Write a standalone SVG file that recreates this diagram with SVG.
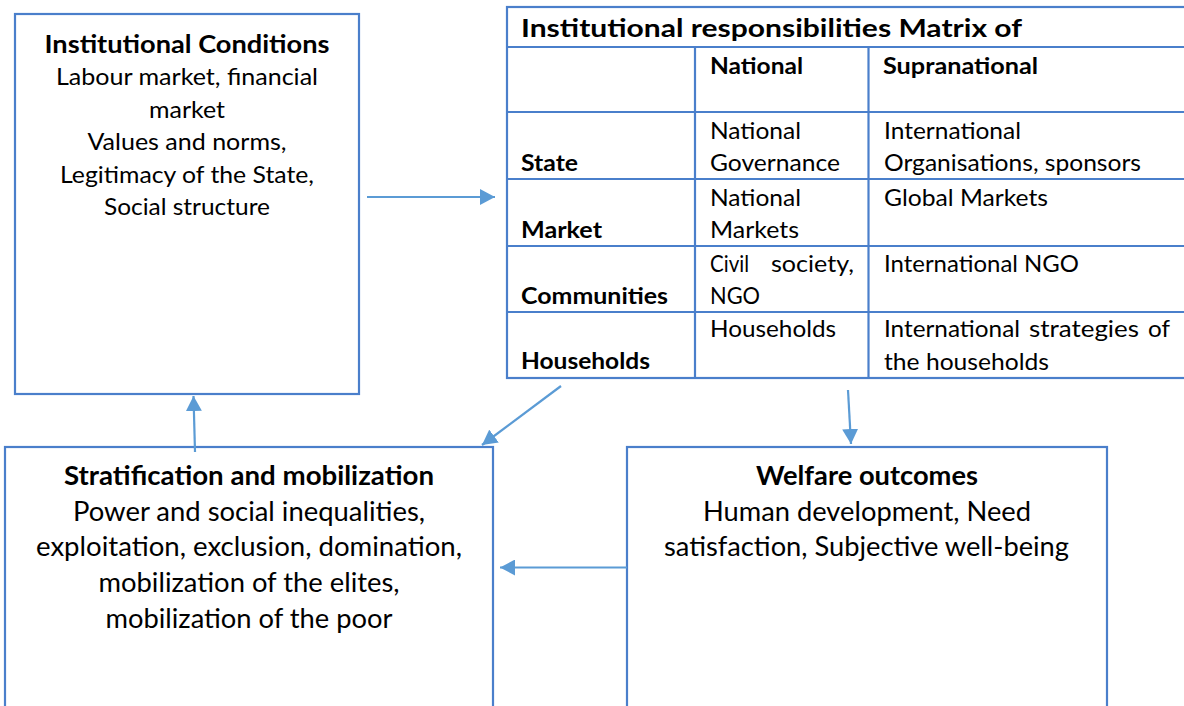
<svg xmlns="http://www.w3.org/2000/svg" width="1184" height="706" viewBox="0 0 1184 706">
<style>
.box{fill:#fff;stroke:#4A7FCB;stroke-width:2.2}
.tl{stroke:#4A7FCB;stroke-width:2.2;fill:none}
.t{font-family:Lato,"Liberation Sans",sans-serif;fill:#000;font-size:24px}
.b{font-weight:bold}
.c{text-anchor:middle}
.s{font-size:23.5px}
.l{font-size:26px}
.conn{stroke:#5B9BD5;stroke-width:2.2;fill:none;marker-end:url(#ah)}
</style>
<defs>
<marker id="ah" markerUnits="userSpaceOnUse" markerWidth="15" markerHeight="16" viewBox="0 0 15 16" refX="15" refY="8" orient="auto">
<path d="M0,0 L15,8 L0,16 z" fill="#5B9BD5"/>
</marker>
</defs>
<rect width="1184" height="706" fill="#fff"/>

<g id="institutional-conditions">
<rect class="box" x="15" y="14" width="344" height="380"/>
<text class="t b c" x="187" y="52.5" textLength="285" lengthAdjust="spacingAndGlyphs">Institutional Conditions</text>
<text class="t c" x="187" y="85" textLength="262" lengthAdjust="spacingAndGlyphs">Labour market, financial</text>
<text class="t c" x="187" y="117.5" textLength="76" lengthAdjust="spacingAndGlyphs">market</text>
<text class="t c" x="187" y="150" textLength="199" lengthAdjust="spacingAndGlyphs">Values and norms,</text>
<text class="t c" x="187" y="182.5" textLength="254" lengthAdjust="spacingAndGlyphs">Legitimacy of the State,</text>
<text class="t c" x="187" y="215" textLength="166" lengthAdjust="spacingAndGlyphs">Social structure</text>
</g>

<g id="matrix">
<rect class="tl" x="507" y="7" width="690" height="371"/>
<line class="tl" x1="507" y1="47" x2="1190" y2="47"/>
<line class="tl" x1="507" y1="112" x2="1190" y2="112"/>
<line class="tl" x1="507" y1="179" x2="1190" y2="179"/>
<line class="tl" x1="507" y1="246" x2="1190" y2="246"/>
<line class="tl" x1="507" y1="312" x2="1190" y2="312"/>
<line class="tl" x1="695" y1="47" x2="695" y2="378"/>
<line class="tl" x1="868.5" y1="47" x2="868.5" y2="378"/>
<text class="t b" x="521" y="37" font-size="27" textLength="501" lengthAdjust="spacingAndGlyphs">Institutional responsibilities Matrix of</text>
<text class="t s b" x="710" y="74" textLength="93" lengthAdjust="spacingAndGlyphs">National</text>
<text class="t s b" x="883" y="74" textLength="155" lengthAdjust="spacingAndGlyphs">Supranational</text>

<text class="t s b" x="521" y="171" textLength="57" lengthAdjust="spacingAndGlyphs">State</text>
<text class="t s" x="710" y="139" textLength="91" lengthAdjust="spacingAndGlyphs">National</text>
<text class="t s" x="710" y="171" textLength="130" lengthAdjust="spacingAndGlyphs">Governance</text>
<text class="t s" x="884" y="139" textLength="137" lengthAdjust="spacingAndGlyphs">International</text>
<text class="t s" x="884" y="171" textLength="257" lengthAdjust="spacingAndGlyphs">Organisations, sponsors</text>

<text class="t s b" x="521" y="238" textLength="81" lengthAdjust="spacingAndGlyphs">Market</text>
<text class="t s" x="710" y="206" textLength="91" lengthAdjust="spacingAndGlyphs">National</text>
<text class="t s" x="710" y="238" textLength="89" lengthAdjust="spacingAndGlyphs">Markets</text>
<text class="t s" x="884" y="206" textLength="164" lengthAdjust="spacingAndGlyphs">Global Markets</text>

<text class="t s b" x="521" y="304" textLength="147" lengthAdjust="spacingAndGlyphs">Communities</text>
<text class="t s" x="710" y="272" textLength="39" lengthAdjust="spacingAndGlyphs">Civil</text>
<text class="t s" x="771" y="272" textLength="83" lengthAdjust="spacingAndGlyphs">society,</text>
<text class="t s" x="710" y="304" textLength="50" lengthAdjust="spacingAndGlyphs">NGO</text>
<text class="t s" x="884" y="272" textLength="195" lengthAdjust="spacingAndGlyphs">International NGO</text>

<text class="t s b" x="521" y="369" textLength="129" lengthAdjust="spacingAndGlyphs">Households</text>
<text class="t s" x="710" y="337" textLength="126" lengthAdjust="spacingAndGlyphs">Households</text>
<text class="t s" x="884" y="337" textLength="136" lengthAdjust="spacingAndGlyphs">International</text>
<text class="t s" x="1029" y="337" textLength="110" lengthAdjust="spacingAndGlyphs">strategies</text>
<text class="t s" x="1148" y="337" textLength="22" lengthAdjust="spacingAndGlyphs">of</text>
<text class="t s" x="884" y="370" textLength="165" lengthAdjust="spacingAndGlyphs">the households</text>
</g>

<g id="stratification">
<rect class="box" x="5" y="447" width="488" height="270"/>
<text class="t l b c" x="249" y="485" textLength="370" lengthAdjust="spacingAndGlyphs">Stratification and mobilization</text>
<text class="t l c" x="249" y="520.7" textLength="352" lengthAdjust="spacingAndGlyphs">Power and social inequalities,</text>
<text class="t l c" x="249" y="556.4" textLength="426" lengthAdjust="spacingAndGlyphs">exploitation, exclusion, domination,</text>
<text class="t l c" x="249" y="592" textLength="301" lengthAdjust="spacingAndGlyphs">mobilization of the elites,</text>
<text class="t l c" x="249" y="627.8" textLength="287" lengthAdjust="spacingAndGlyphs">mobilization of the poor</text>
</g>

<g id="welfare-outcomes">
<rect class="box" x="627" y="447" width="480" height="270"/>
<text class="t l b c" x="867" y="485" textLength="222" lengthAdjust="spacingAndGlyphs">Welfare outcomes</text>
<text class="t l c" x="867" y="520.7" textLength="328" lengthAdjust="spacingAndGlyphs">Human development, Need</text>
<text class="t l c" x="866.5" y="556.4" textLength="405" lengthAdjust="spacingAndGlyphs">satisfaction, Subjective well-being</text>
</g>

<g id="connectors">
<line class="conn" x1="367" y1="197" x2="495" y2="197"/>
<line class="conn" x1="561" y1="386" x2="482" y2="445"/>
<line class="conn" x1="848" y1="390" x2="851" y2="444"/>
<line class="conn" x1="195" y1="452" x2="193.5" y2="396"/>
<line class="conn" x1="627" y1="567.5" x2="500" y2="567.5"/>
</g>
</svg>
